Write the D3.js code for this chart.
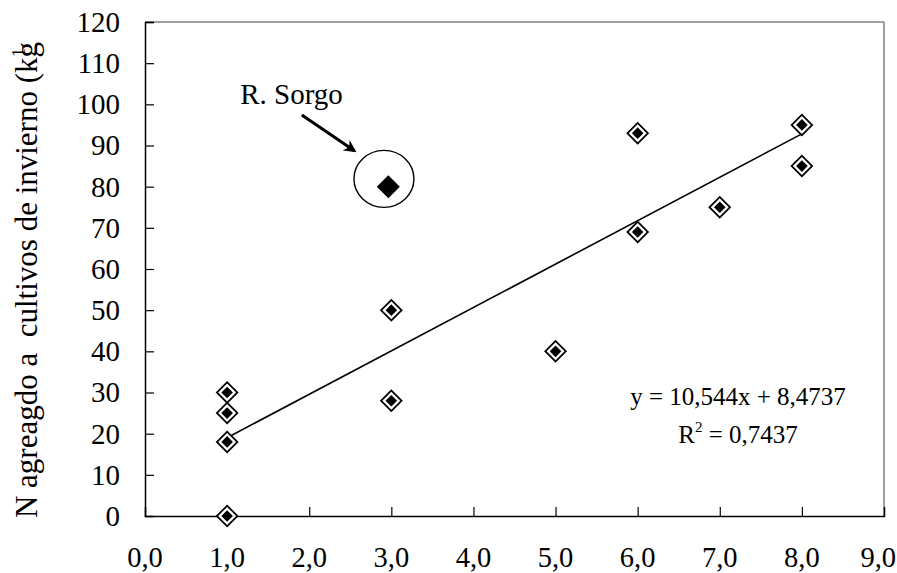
<!DOCTYPE html>
<html>
<head>
<meta charset="utf-8">
<script src="https://cdn.jsdelivr.net/npm/d3@7"></script>
<style>
  html, body { margin: 0; padding: 0; background: #fff; }
  svg { display: block; }
  text { font-family: "Liberation Serif", "Times New Roman", serif; fill: #000; white-space: pre; }
</style>
</head>
<body>
<svg id="chart" width="897" height="573"></svg>
<script>
// Cultivos de invierno: dosis de N agregado por parcela
const xValues = [1, 1, 1, 1, 3, 3, 5, 6, 6, 7, 8, 8];
const yValues = [0, 18, 25, 30, 28, 50, 40, 69, 93, 75, 85, 95];
// Punto destacado (rastrojo de sorgo)
const sorgo = { x: 3, y: 80, label: "R. Sorgo" };
// Recta de ajuste
const slope = 10.544;
const intercept = 8.4737;
const r2 = "0,7437";
const fitRange = [1, 8];
const xTicks = [0, 1, 2, 3, 4, 5, 6, 7, 8, 9];
const yTicks = [0, 10, 20, 30, 40, 50, 60, 70, 80, 90, 100, 110, 120];

const W = 897;
const svg = d3.select("#chart");
const pLeft = 145, pRight = 884, pTop = 22, pBottom = 516;

const x = d3.scaleLinear().domain([0, 9]).range([pLeft, pRight]);
const y = d3.scaleLinear().domain([0, 120]).range([pBottom, pTop]);
const fmt = d => d3.format(".1f")(d).replace(".", ",");

// Marco del área de trazado
svg.append("line").attr("x1", pLeft).attr("x2", pRight).attr("y1", pTop).attr("y2", pTop)
  .attr("stroke", "#808080").attr("stroke-width", 1.5);
svg.append("line").attr("x1", pRight).attr("x2", pRight).attr("y1", pTop).attr("y2", pBottom)
  .attr("stroke", "#808080").attr("stroke-width", 1.5);

// Eje Y
const yAxis = svg.append("g").attr("transform", `translate(${pLeft},0)`)
  .call(d3.axisRight(y).tickValues(yTicks).tickSize(9).tickFormat(""));
yAxis.select(".domain").attr("stroke", "#000").attr("stroke-width", 1.5);
yAxis.selectAll(".tick line").attr("stroke", "#000").attr("stroke-width", 1.2)
  .filter(d => d === 0).remove();
svg.append("g").selectAll("text").data(yTicks).join("text")
  .attr("x", 120).attr("y", d => y(d)).attr("dy", "0.34em")
  .attr("text-anchor", "end").attr("font-size", 29).text(d => d);

// Eje X
const xAxis = svg.append("g").attr("transform", `translate(0,${pBottom})`)
  .call(d3.axisTop(x).tickValues(xTicks).tickSize(9).tickFormat(""));
xAxis.select(".domain").attr("stroke", "#000").attr("stroke-width", 1.5);
xAxis.selectAll(".tick line").attr("stroke", "#000").attr("stroke-width", 1.2)
  .filter(d => d === 0 || d === 9).remove();
svg.append("g").selectAll("text").data(xTicks).join("text")
  .attr("x", d => x(d)).attr("y", 567)
  .attr("text-anchor", "middle").attr("font-size", 28.5).text(fmt)
  .each(function (d) {
    // mantener la última etiqueta dentro del lienzo
    const half = this.getComputedTextLength() / 2;
    if (x(d) + half > W - 1) d3.select(this).attr("x", W - 1 - half);
  });

// Título del eje Y
const yl = svg.append("text")
  .attr("transform", `translate(37,${(pBottom + 44) / 2}) rotate(-90)`)
  .attr("text-anchor", "middle").attr("font-size", 31);
yl.append("tspan").text("N agreagdo a  cultivos de invierno (kg");
yl.append("tspan").attr("dx", -15).attr("dy", -12).attr("font-size", 18).text("1");
yl.append("tspan").attr("dx", 2).attr("dy", 12).attr("font-size", 14).text(".");

// Recta de regresión
svg.append("line")
  .attr("x1", x(fitRange[0])).attr("y1", y(slope * fitRange[0] + intercept))
  .attr("x2", x(fitRange[1])).attr("y2", y(slope * fitRange[1] + intercept))
  .attr("stroke", "#000").attr("stroke-width", 1.6);

// Marcadores en rombo: contorno negro, anillo blanco, centro negro
const diamond = r => `M0,${-r}L${r},0L0,${r}L${-r},0Z`;
const pts = xValues.map((v, i) => ({ x: v, y: yValues[i] }));
const g = svg.append("g").selectAll("g").data(pts).join("g")
  .attr("transform", d => `translate(${x(d.x)},${y(d.y)})`);
g.append("path").attr("d", diamond(11.5)).attr("fill", "#000");
g.append("path").attr("d", diamond(9)).attr("fill", "#fff");
g.append("path").attr("d", diamond(5.8)).attr("fill", "#000");

// Punto de sorgo
svg.append("path")
  .attr("transform", `translate(${x(sorgo.x) - 3},${y(sorgo.y)})`)
  .attr("d", diamond(11.5)).attr("fill", "#000");
svg.append("ellipse")
  .attr("cx", x(2.91)).attr("cy", y(81.9)).attr("rx", 30).attr("ry", 28.5)
  .attr("fill", "none").attr("stroke", "#000").attr("stroke-width", 1.4);

// Flecha y etiqueta
svg.append("defs").append("marker")
  .attr("id", "head").attr("viewBox", "0 0 10 10").attr("refX", 8).attr("refY", 5)
  .attr("markerWidth", 4.2).attr("markerHeight", 4.2).attr("markerUnits", "strokeWidth")
  .attr("orient", "auto")
  .append("path").attr("d", "M0,0L10,5L0,10L3,5Z").attr("fill", "#000");
svg.append("line")
  .attr("x1", x(1.91)).attr("y1", y(97.4)).attr("x2", x(2.55)).attr("y2", y(88.7))
  .attr("stroke", "#000").attr("stroke-width", 3).attr("marker-end", "url(#head)");
svg.append("text").attr("x", x(1.16)).attr("y", y(100.2))
  .attr("font-size", 29).text(sorgo.label);

// Ecuación y coeficiente de determinación
svg.append("text").attr("x", 738).attr("y", 405).attr("text-anchor", "middle")
  .attr("font-size", 25).text(`y = ${String(slope).replace(".", ",")}x + ${String(intercept).replace(".", ",")}`);
const rt = svg.append("text").attr("x", 738).attr("y", 443).attr("text-anchor", "middle")
  .attr("font-size", 25);
rt.append("tspan").text("R");
rt.append("tspan").attr("dy", -11).attr("font-size", 15).text("2");
rt.append("tspan").attr("dy", 11).text(` = ${r2}`);
</script>
</body>
</html>
